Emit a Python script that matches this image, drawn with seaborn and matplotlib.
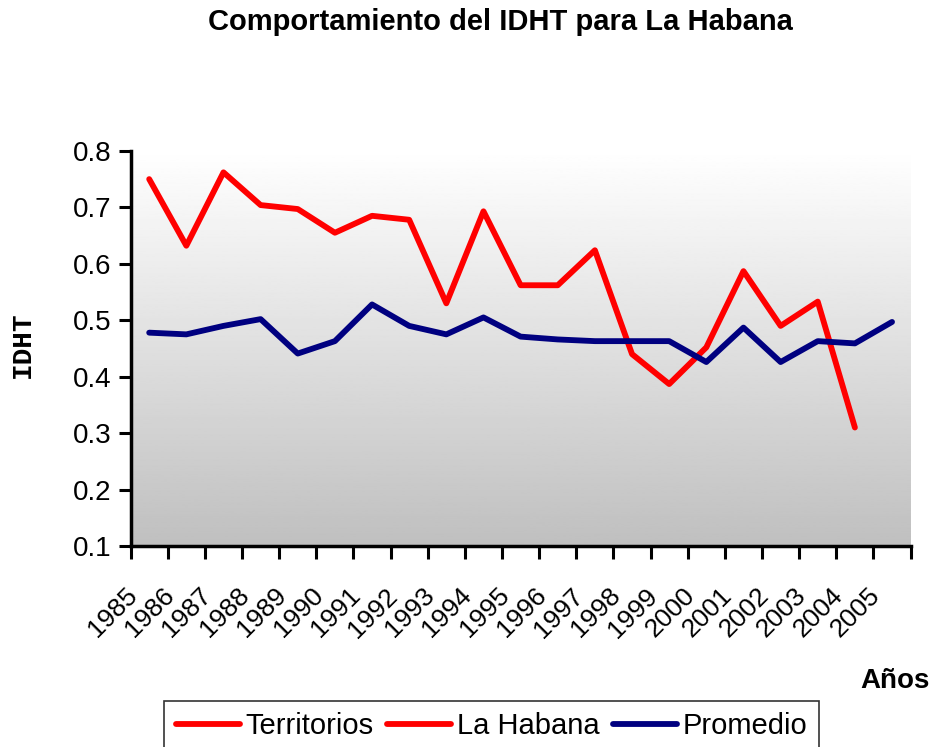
import numpy as np
import pandas as pd
import matplotlib
matplotlib.use("Agg")
import matplotlib.pyplot as plt
import matplotlib.transforms as mtrans
from matplotlib.lines import Line2D
import seaborn as sns

years = [str(y) for y in range(1985, 2006)]
la_habana = [0.750, 0.632, 0.762, 0.704, 0.697, 0.655, 0.685, 0.678, 0.530, 0.693,
             0.562, 0.562, 0.624, 0.440, 0.387, 0.452, 0.587, 0.490, 0.533, 0.310, np.nan]
promedio = [0.478, 0.475, 0.490, 0.502, 0.441, 0.463, 0.528, 0.490, 0.475, 0.505,
            0.471, 0.466, 0.463, 0.463, 0.463, 0.426, 0.487, 0.426, 0.463, 0.459, 0.497]
territorios = [np.nan] * len(years)

df = pd.DataFrame({"idx": range(len(years)), "Año": years,
                   "Territorios": territorios, "La Habana": la_habana, "Promedio": promedio})

sns.set_style("white")
plt.rcParams['font.family'] = ['Liberation Sans', 'DejaVu Sans']
plt.rcParams['text.color'] = 'black'
plt.rcParams['axes.labelcolor'] = 'black'
plt.rcParams['xtick.color'] = 'black'
plt.rcParams['ytick.color'] = 'black'

fig = plt.figure(figsize=(9.33, 7.47), dpi=100)
ax = fig.add_axes([0.140, 0.269, 0.836, 0.529])

# gradient background of plot area
grad = np.linspace(1.0, 0.75, 256).reshape(-1, 1)
ax.imshow(grad, cmap="gray", vmin=0, vmax=1, aspect="auto",
          extent=[0, 1, 0, 1], transform=ax.transAxes, zorder=0)

colors = {"Territorios": "#FF0000", "La Habana": "#FF0000", "Promedio": "#000080"}
for name in ["La Habana", "Promedio"]:
    sns.lineplot(data=df, x="idx", y=name, color=colors[name], linewidth=4.2,
                 ax=ax, zorder=3, solid_capstyle="round", solid_joinstyle="round")

ax.set_xlim(-0.5, len(years) - 0.5)
ax.set_ylim(0.1, 0.8)
ax.set_yticks(np.arange(0.1, 0.81, 0.1))
ax.set_yticklabels([f"{v:.1f}" for v in np.arange(0.1, 0.81, 0.1)], fontsize=20)

ax.set_xticks(np.arange(-0.5, len(years), 1.0))
ax.set_xticklabels([])
ax.set_xticks(np.arange(len(years)), minor=True)
ax.set_xticklabels(years, minor=True, rotation=45, ha="right",
                   rotation_mode="anchor", fontsize=19)
ax.tick_params(axis="x", which="minor", length=0, pad=14)
ax.tick_params(axis="both", which="major", direction="out", length=9, width=2.2,
               color="black", left=True, bottom=True)
ax.tick_params(axis="y", pad=5)
shift = mtrans.ScaledTranslation(-24 / 100, -18 / 100, fig.dpi_scale_trans)
for lbl in ax.get_xticklabels(minor=True):
    lbl.set_transform(lbl.get_transform() + shift)

for s in ["top", "right"]:
    ax.spines[s].set_visible(False)
for s in ["left", "bottom"]:
    ax.spines[s].set_color("black")
    ax.spines[s].set_linewidth(2.5)

ax.set_xlabel("")
ax.set_ylabel("")
fig.text(0.024, 0.538, "IDHT", rotation=90, ha="center", va="center",
         fontsize=20, fontweight="bold", family="Liberation Mono")

fig.text(0.536, 0.970, "Comportamiento del IDHT para La Habana", ha="center", va="center",
         fontsize=21, fontweight="bold")
fig.text(0.996, 0.089, "Años", ha="right", va="center", fontsize=20, fontweight="bold")

handles = [Line2D([], [], color=colors[n], linewidth=4.2, solid_capstyle="round")
           for n in ["Territorios", "La Habana", "Promedio"]]
leg = fig.legend(handles, ["Territorios", "La Habana", "Promedio"], ncol=3,
                 loc="lower center", bbox_to_anchor=(0.527, -0.026), fontsize=21,
                 frameon=True, fancybox=False, edgecolor="black", handlelength=2.2,
                 handletextpad=0.2, columnspacing=0.45, borderpad=0.4)
leg.get_frame().set_linewidth(1.2)

fig.savefig("out.png", dpi=100)
